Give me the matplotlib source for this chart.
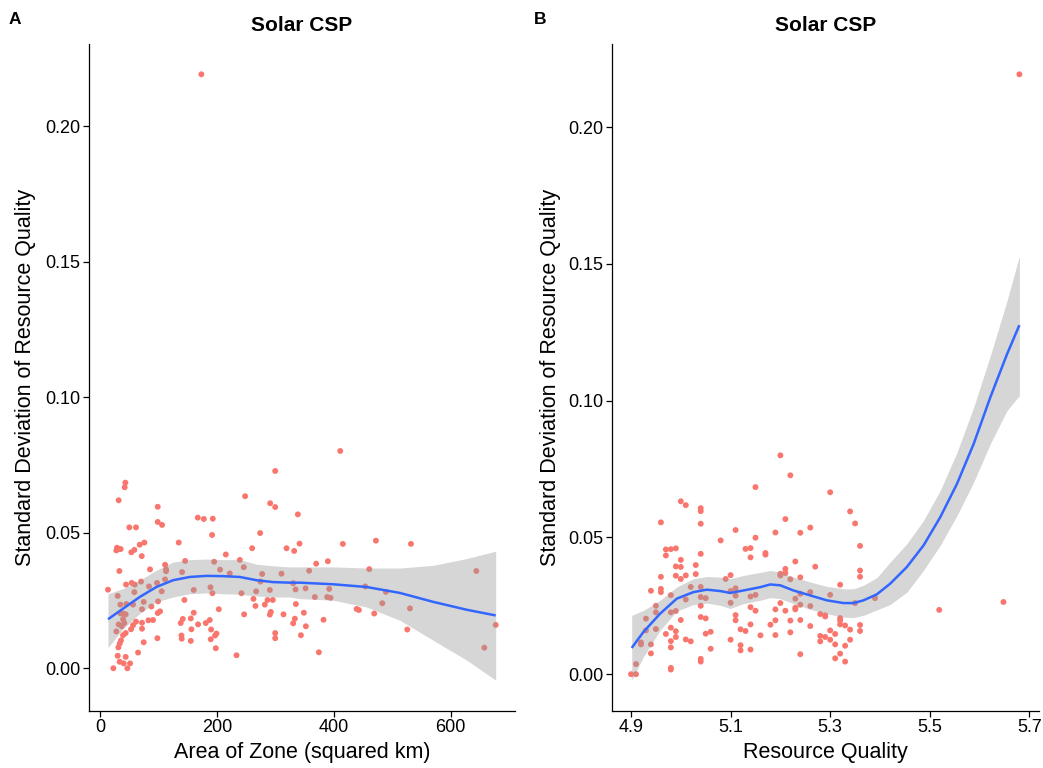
import matplotlib
matplotlib.use("Agg")
import matplotlib.pyplot as plt
import numpy as np

plt.rcParams['font.family'] = ['Liberation Sans', 'DejaVu Sans']

# ---------------- Data ----------------
panel_title = "Solar CSP"
y_label = "Standard Deviation of Resource Quality"
xlabel_a = "Area of Zone (squared km)"
xlabel_b = "Resource Quality"

area = [13.1, 42.9, 41.7, 31.4, 98.3, 98.3, 105.7, 49.7, 61.1, 28.6, 31.4, 34.8, 27.4,
        53.1, 58.3, 67.4, 75.4, 70.9, 134.3, 166.9, 177.2, 192.6, 191.4, 248.0, 290.9,
        299.5, 299.5, 338.3, 273.7, 260.0, 318.9, 332.0, 341.2, 214.9, 238.9, 245.7, 194.9,
        145.2, 110.9, 112.6, 112.6, 110.9, 85.1, 32.6, 44.0, 53.7, 58.9, 69.7, 83.4, 97.1,
        105.1, 140.0, 205.1, 221.7, 277.2, 274.3, 310.3, 188.6, 192.0, 160.0, 241.7, 266.9,
        290.3, 330.3, 334.3, 351.5, 29.7, 58.3, 34.3, 44.6, 56.0, 74.3, 98.9, 87.4, 71.4,
        102.3, 98.3, 144.0, 202.9, 160.0, 154.9, 141.2, 137.7, 167.4, 156.0, 138.9, 139.4,
        154.9, 180.6, 187.4, 189.7, 198.9, 196.6, 189.1, 197.7, 233.2, 246.3, 262.3, 265.7,
        281.7, 286.3, 295.4, 292.0, 290.3, 313.7, 334.9, 348.6, 333.2, 330.3, 352.0, 343.5,
        299.5, 299.5, 97.7, 74.3, 64.6, 82.3, 90.3, 71.4, 71.4, 61.1, 56.0, 52.6, 43.4,
        38.9, 34.8, 38.9, 41.1, 36.6, 31.4, 27.4, 43.4, 38.9, 35.4, 33.1, 30.9, 29.7, 33.1,
        40.0, 50.9, 43.4, 46.3, 22.3,
        410.9, 415.4, 472.0, 532.0, 369.7, 389.7, 357.7, 460.6, 644.0, 392.0, 367.4, 388.6,
        394.3, 453.7, 489.1, 482.9, 530.3, 438.9, 442.9, 469.1, 382.3, 525.7, 374.3, 677.2,
        657.7, 173.0]
sd_a = [0.0290, 0.0685, 0.0668, 0.0620, 0.0596, 0.0540, 0.0529, 0.0520, 0.0520, 0.0445,
        0.0440, 0.0440, 0.0435, 0.0428, 0.0437, 0.0456, 0.0464, 0.0414, 0.0464, 0.0556,
        0.0551, 0.0552, 0.0492, 0.0635, 0.0609, 0.0728, 0.0595, 0.0568, 0.0499, 0.0443,
        0.0443, 0.0433, 0.0460, 0.0420, 0.0400, 0.0373, 0.0393, 0.0396, 0.0382, 0.0365,
        0.0358, 0.0328, 0.0365, 0.0359, 0.0309, 0.0315, 0.0309, 0.0320, 0.0302, 0.0315,
        0.0284, 0.0355, 0.0364, 0.0350, 0.0348, 0.0320, 0.0349, 0.0299, 0.0277, 0.0289,
        0.0277, 0.0284, 0.0289, 0.0314, 0.0291, 0.0295, 0.0267, 0.0281, 0.0235, 0.0237,
        0.0235, 0.0245, 0.0247, 0.0228, 0.0218, 0.0210, 0.0204, 0.0252, 0.0218, 0.0205,
        0.0184, 0.0182, 0.0167, 0.0162, 0.0144, 0.0121, 0.0109, 0.0101, 0.0167, 0.0178,
        0.0143, 0.0128, 0.0121, 0.0107, 0.0074, 0.0048, 0.0199, 0.0256, 0.0230, 0.0235,
        0.0252, 0.0252, 0.0208, 0.0198, 0.0199, 0.0237, 0.0205, 0.0183, 0.0166, 0.0155,
        0.0122, 0.0130, 0.0111, 0.0111, 0.0096, 0.0058, 0.0177, 0.0178, 0.0168, 0.0146,
        0.0172, 0.0159, 0.0144, 0.0199, 0.0202, 0.0202, 0.0181, 0.0167, 0.0155, 0.0162,
        0.0136, 0.0130, 0.0122, 0.0103, 0.0091, 0.0077, 0.0046, 0.0024, 0.0018, 0.0018,
        0.0042, 0.0000, 0.0000,
        0.0802, 0.0459, 0.0471, 0.0459, 0.0386, 0.0395, 0.0360, 0.0366, 0.0359, 0.0293,
        0.0263, 0.0263, 0.0260, 0.0302, 0.0282, 0.0240, 0.0221, 0.0219, 0.0215, 0.0202,
        0.0179, 0.0143, 0.0059, 0.0160, 0.0076, 0.2192]

smooth_a_x = [13.1, 38.9, 67.4, 96.0, 124.6, 153.2, 181.7, 210.3, 238.9, 267.5, 296.0,
              324.6, 341.7, 398.9, 456.0, 513.2, 570.3, 627.5, 677.2]
smooth_a_y = [0.0181, 0.0220, 0.0263, 0.0300, 0.0325, 0.0337, 0.0341, 0.0340, 0.0337,
              0.0325, 0.0318, 0.0316, 0.0316, 0.0310, 0.0300, 0.0278, 0.0245, 0.0216, 0.0195]
smooth_a_hi = [0.0275, 0.0294, 0.0325, 0.0362, 0.0392, 0.0401, 0.0403, 0.0401, 0.0401,
               0.0384, 0.0378, 0.0374, 0.0374, 0.0374, 0.0370, 0.0370, 0.0380, 0.0405, 0.0432]
smooth_a_lo = [0.0076, 0.0146, 0.0202, 0.0245, 0.0263, 0.0275, 0.0278, 0.0275, 0.0273,
               0.0267, 0.0263, 0.0263, 0.0257, 0.0251, 0.0226, 0.0177, 0.0103, 0.0030, -0.0044]

quality = [4.900, 4.910, 4.910, 4.920, 4.920, 4.930, 4.930, 4.940, 4.940, 4.940, 4.950,
           4.950, 4.950, 4.960, 4.960, 4.960, 4.960, 4.970, 4.970, 4.970, 4.980, 4.980,
           4.980, 4.980, 4.980, 4.980, 4.980, 4.980, 4.990, 4.990, 4.990, 4.990, 4.990,
           4.990, 5.000, 5.000, 5.000, 5.000, 5.000, 5.010, 5.010, 5.010, 5.010, 5.020,
           5.020, 5.030, 5.030, 5.040, 5.040, 5.040, 5.040, 5.040, 5.040, 5.040, 5.040,
           5.040, 5.040, 5.050, 5.050, 5.050, 5.060, 5.060, 5.080, 5.090, 5.100, 5.100,
           5.100, 5.100, 5.110, 5.110, 5.110, 5.110, 5.110, 5.120, 5.120, 5.120, 5.130,
           5.130, 5.140, 5.140, 5.140, 5.140, 5.140, 5.140, 5.150, 5.150, 5.150, 5.150,
           5.160,
           5.200, 5.220, 5.210, 5.190, 5.170, 5.170, 5.200, 5.200, 5.210, 5.210, 5.220,
           5.230, 5.240, 5.240, 5.260, 5.270, 5.300, 5.340, 5.350, 5.360, 5.360, 5.360,
           5.320, 5.300, 5.260, 5.240, 5.240, 5.230, 5.230, 5.230, 5.260, 5.200, 5.190,
           5.210, 5.190, 5.180, 5.220, 5.240, 5.260, 5.220, 5.190, 5.240, 5.280, 5.290,
           5.290, 5.320, 5.320, 5.320, 5.330, 5.340, 5.300, 5.310, 5.280, 5.280, 5.290,
           5.300, 5.310, 5.340, 5.330, 5.320, 5.310, 5.330, 5.360, 5.360, 5.350, 5.390,
           5.519, 5.648, 5.680]
sd_b = [0.0000, 0.0000, 0.0037, 0.0116, 0.0109, 0.0203, 0.0160, 0.0305, 0.0109, 0.0076,
        0.0250, 0.0226, 0.0165, 0.0555, 0.0356, 0.0312, 0.0300, 0.0456, 0.0434, 0.0147,
        0.0457, 0.0289, 0.0226, 0.0170, 0.0121, 0.0098, 0.0023, 0.0017, 0.0460, 0.0394,
        0.0360, 0.0231, 0.0157, 0.0136, 0.0632, 0.0418, 0.0392, 0.0348, 0.0198, 0.0618,
        0.0361, 0.0273, 0.0127, 0.0319, 0.0120, 0.0399, 0.0366, 0.0607, 0.0596, 0.0550,
        0.0440, 0.0319, 0.0282, 0.0250, 0.0209, 0.0056, 0.0046, 0.0278, 0.0204, 0.0148,
        0.0155, 0.0093, 0.0489, 0.0348, 0.0362, 0.0304, 0.0261, 0.0126, 0.0527, 0.0314,
        0.0287, 0.0216, 0.0197, 0.0164, 0.0106, 0.0087, 0.0458, 0.0158, 0.0461, 0.0427,
        0.0284, 0.0245, 0.0182, 0.0090, 0.0684, 0.0499, 0.0290, 0.0232, 0.0142,
        0.0800, 0.0727, 0.0567, 0.0518, 0.0443, 0.0437, 0.0367, 0.0361, 0.0385, 0.0370,
        0.0347, 0.0412, 0.0517, 0.0354, 0.0536, 0.0393, 0.0665, 0.0595, 0.0551, 0.0469,
        0.0379, 0.0356, 0.0327, 0.0290, 0.0300, 0.0294, 0.0254, 0.0276, 0.0243, 0.0237,
        0.0249, 0.0260, 0.0237, 0.0232, 0.0197, 0.0181, 0.0196, 0.0198, 0.0176, 0.0153,
        0.0143, 0.0073, 0.0220, 0.0215, 0.0211, 0.0205, 0.0196, 0.0182, 0.0178, 0.0163,
        0.0160, 0.0147, 0.0140, 0.0120, 0.0136, 0.0126, 0.0109, 0.0126, 0.0104, 0.0075,
        0.0058, 0.0046, 0.0180, 0.0158, 0.0260, 0.0278,
        0.0235, 0.0264, 0.2193]

smooth_b_x = [4.9014, 4.9248, 4.9583, 4.9918, 5.0253, 5.0521, 5.0789, 5.0990, 5.1258,
              5.1593, 5.1794, 5.1995, 5.2263, 5.2598, 5.2933, 5.3268, 5.3469, 5.3670,
              5.3938, 5.4206, 5.4541, 5.4876, 5.5211, 5.5547, 5.5882, 5.6216, 5.6552, 5.6800]
smooth_b_y = [0.0096, 0.0154, 0.0221, 0.0276, 0.0300, 0.0309, 0.0304, 0.0297, 0.0306,
              0.0318, 0.0328, 0.0325, 0.0306, 0.0288, 0.0270, 0.0260, 0.0260, 0.0270,
              0.0292, 0.0331, 0.0392, 0.0471, 0.0574, 0.0696, 0.0842, 0.1012, 0.1170, 0.1276]
smooth_b_hi = [0.0215, 0.0233, 0.0270, 0.0319, 0.0349, 0.0357, 0.0355, 0.0349, 0.0361,
               0.0372, 0.0379, 0.0373, 0.0355, 0.0337, 0.0321, 0.0312, 0.0312, 0.0325,
               0.0353, 0.0410, 0.0477, 0.0562, 0.0672, 0.0811, 0.0976, 0.1164, 0.1365, 0.1529]
smooth_b_lo = [-0.0022, 0.0063, 0.0160, 0.0231, 0.0254, 0.0260, 0.0252, 0.0240, 0.0258,
               0.0270, 0.0280, 0.0276, 0.0258, 0.0237, 0.0221, 0.0209, 0.0207, 0.0215,
               0.0235, 0.0255, 0.0300, 0.0380, 0.0471, 0.0580, 0.0702, 0.0842, 0.0964, 0.1018]

y_ticks = [0.00, 0.05, 0.10, 0.15, 0.20]
x_ticks_a = [0, 200, 400, 600]
x_ticks_b = [4.9, 5.1, 5.3, 5.5, 5.7]

# ---------------- Style ----------------
W, H = 1043, 768
point_color = "#F8766D"
line_color = "#3366FF"
band_color = "#999999"

fig = plt.figure(figsize=(W / 100, H / 100), dpi=100)


def px_axes(x0, y0, x1, y1):
    return fig.add_axes([x0 / W, 1 - y1 / H, (x1 - x0) / W, (y1 - y0) / H])


def expand(lo, hi, f=0.05):
    r = hi - lo
    return lo - f * r, hi + f * r


def draw_panel(ax, x, y, sx, sy, shi, slo, xticks, xfmt, xlabel, ylx):
    ax.scatter(x, y, s=18, color=point_color, edgecolors='none', zorder=2)
    ax.fill_between(sx, slo, shi, color=band_color, alpha=0.4, linewidth=0, zorder=3)
    ax.plot(sx, sy, color=line_color, lw=1.8, zorder=4, solid_capstyle='butt',
            solid_joinstyle='round')
    allx = list(x) + list(sx)
    ally = list(y) + list(slo) + list(shi)
    ax.set_xlim(*expand(min(allx), max(allx)))
    ax.set_ylim(*expand(min(ally), max(ally)))
    ax.set_xticks(xticks)
    ax.set_xticklabels([xfmt(t) for t in xticks])
    ax.set_yticks(y_ticks)
    ax.set_yticklabels([f"{t:.2f}" for t in y_ticks])
    for s in ['top', 'right']:
        ax.spines[s].set_visible(False)
    for s in ['left', 'bottom']:
        ax.spines[s].set_linewidth(0.9)
        ax.spines[s].set_color('black')
    ax.tick_params(axis='both', length=4, width=0.9, color='black', labelsize=13,
                   labelcolor='black', pad=2)
    ax.set_xlabel(xlabel, fontsize=15.5)
    ax.xaxis.label.set_va('center')
    ax.xaxis.set_label_coords(0.5, -0.0623)
    ax.set_ylabel(y_label, fontsize=15.5)
    ax.yaxis.label.set_va('center')
    ax.yaxis.set_label_coords(ylx, 0.5)
    ax.text(0.5, 1.0285, panel_title, transform=ax.transAxes, ha='center', va='center',
            fontsize=15, fontweight='bold')


ax1 = px_axes(88.6, 44, 515.1, 710.5)
draw_panel(ax1, area, sd_a, smooth_a_x, smooth_a_y, smooth_a_hi, smooth_a_lo,
           x_ticks_a, lambda t: f"{t:d}", xlabel_a, -0.1468)

ax2 = px_axes(611.6, 44, 1038.8, 710.5)
draw_panel(ax2, quality, sd_b, smooth_b_x, smooth_b_y, smooth_b_hi, smooth_b_lo,
           x_ticks_b, lambda t: f"{t:.1f}", xlabel_b, -0.144)

fig.text(15 / W, 1 - 20 / H, "A", fontsize=12.5, fontweight='bold', ha='center', va='center')
fig.text(540 / W, 1 - 19 / H, "B", fontsize=12.5, fontweight='bold', ha='center', va='center')

fig.savefig("out.png", dpi=100)
